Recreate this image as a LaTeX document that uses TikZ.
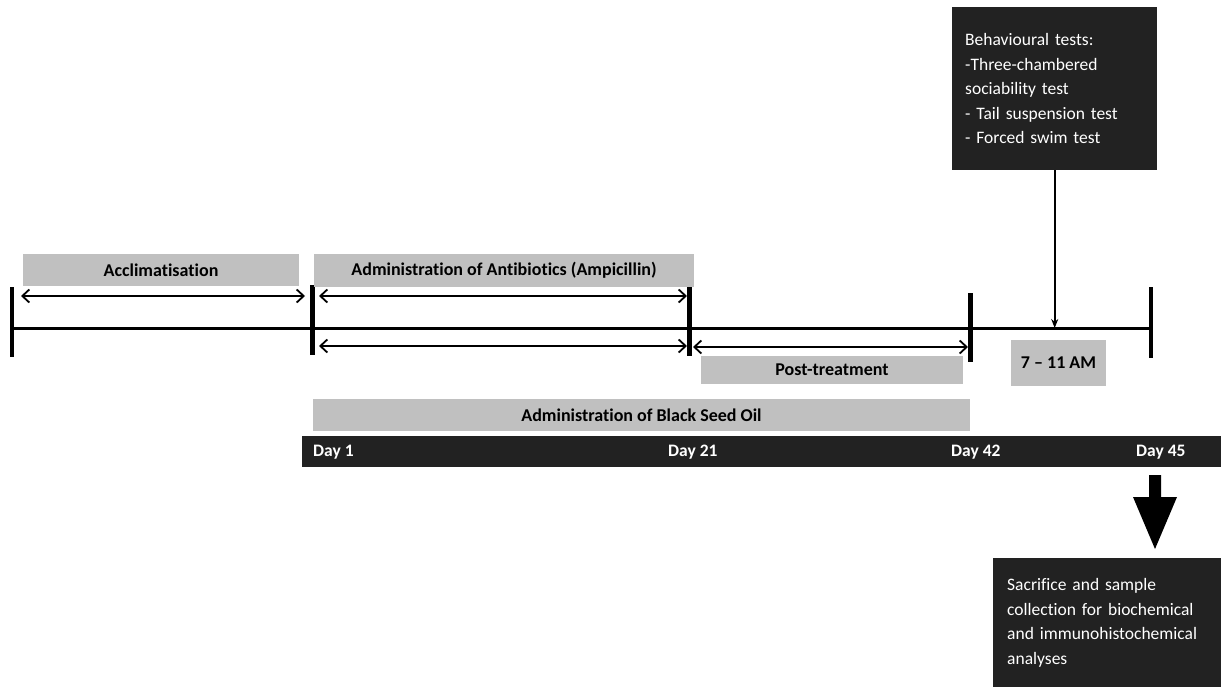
\documentclass[tikz,border=0pt]{standalone}
\usepackage{fontspec}
\setmainfont{Carlito}[Ligatures={NoCommon}]
\usetikzlibrary{arrows.meta}
\definecolor{boxgray}{RGB}{192,192,192}
\definecolor{darkbox}{RGB}{34,34,34}
\tikzset{
  gbox/.style={fill=boxgray, draw=none, inner sep=0pt, font=\fontsize{18}{21}\selectfont\bfseries, text=black},
  dbox/.style={fill=darkbox, draw=none, inner ysep=0pt, align=left, font=\fontsize{17.5}{24.5}\selectfont, text=white},
  daylabel/.style={anchor=west, inner sep=0pt, font=\fontsize{17.5}{20}\selectfont\bfseries, text=white},
  tick/.style={line width=4.5pt},
  mainline/.style={line width=3pt},
  span/.style={line width=1.8pt, arrows={Straight Barb[length=7pt,width=13pt]-Straight Barb[length=7pt,width=13pt]}},
  pointer/.style={line width=2pt, -{Stealth[length=9pt,width=7pt]}}
}
\begin{document}
\begin{tikzpicture}[x=1pt,y=-1pt]
\useasboundingbox (0,0) rectangle (1221,687);
% tick marks
\coordinate (t0a) at (12,287);   \coordinate (t0b) at (12,357);
\coordinate (t1a) at (312.5,285); \coordinate (t1b) at (312.5,355);
\coordinate (t2a) at (689.5,287); \coordinate (t2b) at (689.5,356);
\coordinate (t3a) at (970.5,293); \coordinate (t3b) at (970.5,362);
\coordinate (t4a) at (1151,287); \coordinate (t4b) at (1151,358);
\coordinate (ls) at (12,328); \coordinate (le) at (1151,328);
\draw[mainline] (ls) -- (le);
\draw[tick] (t0a) -- (t0b);
\draw[tick] (t1a) -- (t1b);
\draw[tick] (t2a) -- (t2b);
\draw[tick] (t3a) -- (t3b);
\draw[tick] (t4a) -- (t4b);
% grey label boxes
\node[gbox, minimum width=276pt, minimum height=32pt] (accl) at (161,270) {Acclimatisation};
\node[gbox, minimum width=380pt, minimum height=33pt] (abx) at (504,270.5) {Administration of Antibiotics (Ampicillin)};
\node[gbox, minimum width=262pt, minimum height=28pt] (post) at (832,370) {Post-treatment};
\node[gbox, minimum width=95pt, minimum height=46pt] (time) at (1058.5,362.5) {7 -- 11 AM};
\node[gbox, minimum width=657pt, minimum height=32pt] (bso) at (641.5,415) {Administration of Black Seed Oil};
% span arrows
\coordinate (a1) at (21,296); \coordinate (a2) at (305,296);
\coordinate (b1) at (319,296); \coordinate (b2) at (687,296);
\coordinate (c1) at (319,346); \coordinate (c2) at (687,346);
\coordinate (d1) at (693,347); \coordinate (d2) at (968,347);
\draw[span] (a1) -- (a2);
\draw[span] (b1) -- (b2);
\draw[span] (c1) -- (c2);
\draw[span] (d1) -- (d2);
% dark day bar
\node[fill=darkbox, draw=none, minimum width=919pt, minimum height=31pt, inner sep=0pt] (bar) at (761.5,451.5) {};
\node[daylabel] (d1l) at (313,452) {Day 1};
\node[daylabel] (d21l) at (668,452) {Day 21};
\node[daylabel] (d42l) at (951,452) {Day 42};
\node[daylabel] (d45l) at (1136,452) {Day 45};
% behavioural tests box
\node[dbox, anchor=north west, minimum width=205pt, minimum height=163pt, text width=179pt, inner xsep=13pt] (beh) at (952,7)
  {Behavioural tests:\\-Three-chambered\\sociability test\\- Tail suspension test\\- Forced swim test};
\coordinate (behend) at (beh.south |- le);
\draw[pointer] (beh.south) -- (behend);
% sacrifice box
\node[dbox, anchor=north west, minimum width=228pt, minimum height=129pt, text width=200pt, inner xsep=14pt] (sac) at (993,558)
  {Sacrifice and sample\\collection for biochemical\\and immunohistochemical\\analyses};
% big arrow
\coordinate (bigtop) at (1155,475);
\coordinate (bigtip) at (1155,549);
\fill[black] (1149,475) -- (1161,475) -- (1161,497) -- (1177,497) -- (bigtip) -- (1133,497) -- (1149,497) -- cycle;
\end{tikzpicture}
\end{document}
